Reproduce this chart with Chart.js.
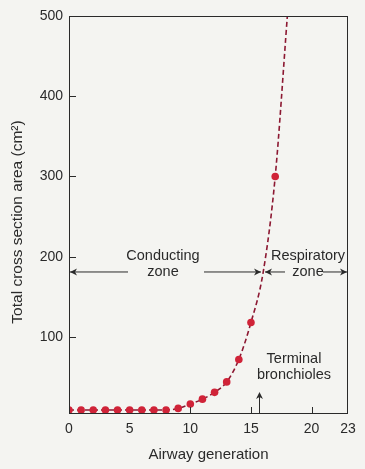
<html>
<body style="margin:0; background-color:#f4f4f1;">
<script src="https://cdn.jsdelivr.net/npm/chart.js@4.4.0/dist/chart.umd.min.js"></script>
<div style="width:365px; height:469px;"><canvas id="chart" width="365" height="469"></canvas></div>
<script>
// values
var generations = [0, 1, 2, 3, 4, 5, 6, 7, 8, 9, 10, 11, 12, 13, 14, 15, 17];
var areas = [9, 9, 9, 9, 9, 9, 9, 9, 9, 11, 16.5, 22.5, 31, 44, 72, 118, 300];
// the dashed curve also passes gen 16 and leaves the top near gen 18
var curveGens = [0, 1, 2, 3, 4, 5, 6, 7, 8, 9, 10, 11, 12, 13, 14, 15, 16, 17, 18];
var curveAreas = [9, 9, 9, 9, 9, 9, 9, 9, 9, 11, 16.5, 22.5, 31, 44, 72, 118, 180, 300, 500];
var xTicks = [0, 5, 10, 15, 20, 23];
var yTicks = [100, 200, 300, 400, 500];
var innerXTicks = [10, 15, 20];

var font = "'Liberation Sans', Arial, sans-serif";
var ink = '#2a2a2a';

function pairs(xs, ys) {
    var out = [];
    for (var i = 0; i < xs.length; i++) out.push({x: xs[i], y: ys[i]});
    return out;
}

function arrow(ctx, x1, y, x2) {
    // line from x1 to x2 with head at x2
    var d = x2 > x1 ? 1 : -1;
    ctx.beginPath();
    ctx.moveTo(x1, y); ctx.lineTo(x2, y); ctx.stroke();
    ctx.beginPath();
    ctx.moveTo(x2, y); ctx.lineTo(x2 - d * 7, y - 3.5); ctx.lineTo(x2 - d * 5, y); ctx.lineTo(x2 - d * 7, y + 3.5);
    ctx.closePath(); ctx.fill();
}

var extras = {
    id: 'extras',
    afterDraw: function(chart) {
        var ctx = chart.ctx, a = chart.chartArea;
        var xs = chart.scales.x, ys = chart.scales.y;
        ctx.save();
        ctx.strokeStyle = ink; ctx.fillStyle = ink; ctx.lineWidth = 1;
        // frame
        ctx.strokeRect(a.left + 0.5, a.top + 0.5, a.right - a.left - 1, a.bottom - a.top - 1);
        // inward tick marks
        yTicks.forEach(function(v) {
            var p = Math.round(ys.getPixelForValue(v)) + 0.5;
            ctx.beginPath(); ctx.moveTo(a.left, p); ctx.lineTo(a.left + 7, p); ctx.stroke();
        });
        innerXTicks.forEach(function(v) {
            var p = Math.round(xs.getPixelForValue(v)) + 0.5;
            ctx.beginPath(); ctx.moveTo(p, a.bottom); ctx.lineTo(p, a.bottom - 7); ctx.stroke();
        });
        // axis titles
        ctx.textAlign = 'center'; ctx.textBaseline = 'middle';
        ctx.font = '15px ' + font;
        ctx.fillText('Airway generation', (a.left + a.right) / 2, 455);
        ctx.save();
        ctx.translate(18, 222);
        ctx.rotate(-Math.PI / 2);
        ctx.font = '15.5px ' + font;
        ctx.fillText('Total cross section area (cm²)', 0, 0);
        ctx.restore();
        // zone labels and arrows
        var yArr = ys.getPixelForValue(181);
        ctx.font = '14.5px ' + font;
        ctx.fillText('Conducting', 163, yArr - 16);
        ctx.fillText('zone', 163, yArr);
        arrow(ctx, 128, yArr, a.left + 1);
        arrow(ctx, 204, yArr, 261);
        ctx.fillText('Respiratory', 308, yArr - 16);
        ctx.fillText('zone', 308, yArr);
        arrow(ctx, 285, yArr, 265);
        arrow(ctx, 323, yArr, a.right - 1);
        ctx.fillText('Terminal', 294, 359);
        ctx.fillText('bronchioles', 294, 375);
        // up arrow to the terminal bronchioles
        var xb = 259.5;
        ctx.beginPath(); ctx.moveTo(xb, a.bottom); ctx.lineTo(xb, 394); ctx.stroke();
        ctx.beginPath(); ctx.moveTo(xb, 392); ctx.lineTo(xb - 3.5, 399); ctx.lineTo(xb, 397); ctx.lineTo(xb + 3.5, 399);
        ctx.closePath(); ctx.fill();
        ctx.restore();
    }
};

new Chart(document.getElementById('chart'), {
    type: 'scatter',
    data: {
        datasets: [
            {
                label: 'points',
                data: pairs(generations, areas),
                showLine: false,
                pointRadius: 3.8,
                pointBackgroundColor: '#d02338',
                pointBorderWidth: 0
            },
            {
                label: 'curve',
                data: pairs(curveGens, curveAreas),
                showLine: true,
                pointRadius: 0,
                borderColor: '#8c1832',
                borderWidth: 1.6,
                borderDash: [5, 3],
                cubicInterpolationMode: 'monotone',
                clip: 0
            }
        ]
    },
    options: {
        responsive: false,
        animation: false,
        layout: {padding: {left: 0, top: 16, right: 17, bottom: 0}},
        plugins: {legend: {display: false}, tooltip: {enabled: false}},
        scales: {
            x: {
                type: 'linear', min: 0, max: 23,
                afterBuildTicks: function(s) { s.ticks = xTicks.map(function(v) { return {value: v}; }); },
                afterFit: function(s) { s.height = 55; },
                grid: {display: false, drawTicks: false, tickLength: 0},
                border: {display: false},
                ticks: {color: ink, font: {family: font, size: 14}, padding: 7, maxRotation: 0}
            },
            y: {
                min: 4, max: 500,
                afterBuildTicks: function(s) { s.ticks = yTicks.map(function(v) { return {value: v}; }); },
                afterFit: function(s) { s.width = 69; },
                grid: {display: false, drawTicks: false, tickLength: 0},
                border: {display: false},
                ticks: {color: ink, font: {family: font, size: 14}, padding: 6}
            }
        }
    },
    plugins: [extras]
});
</script>
</body>
</html>
